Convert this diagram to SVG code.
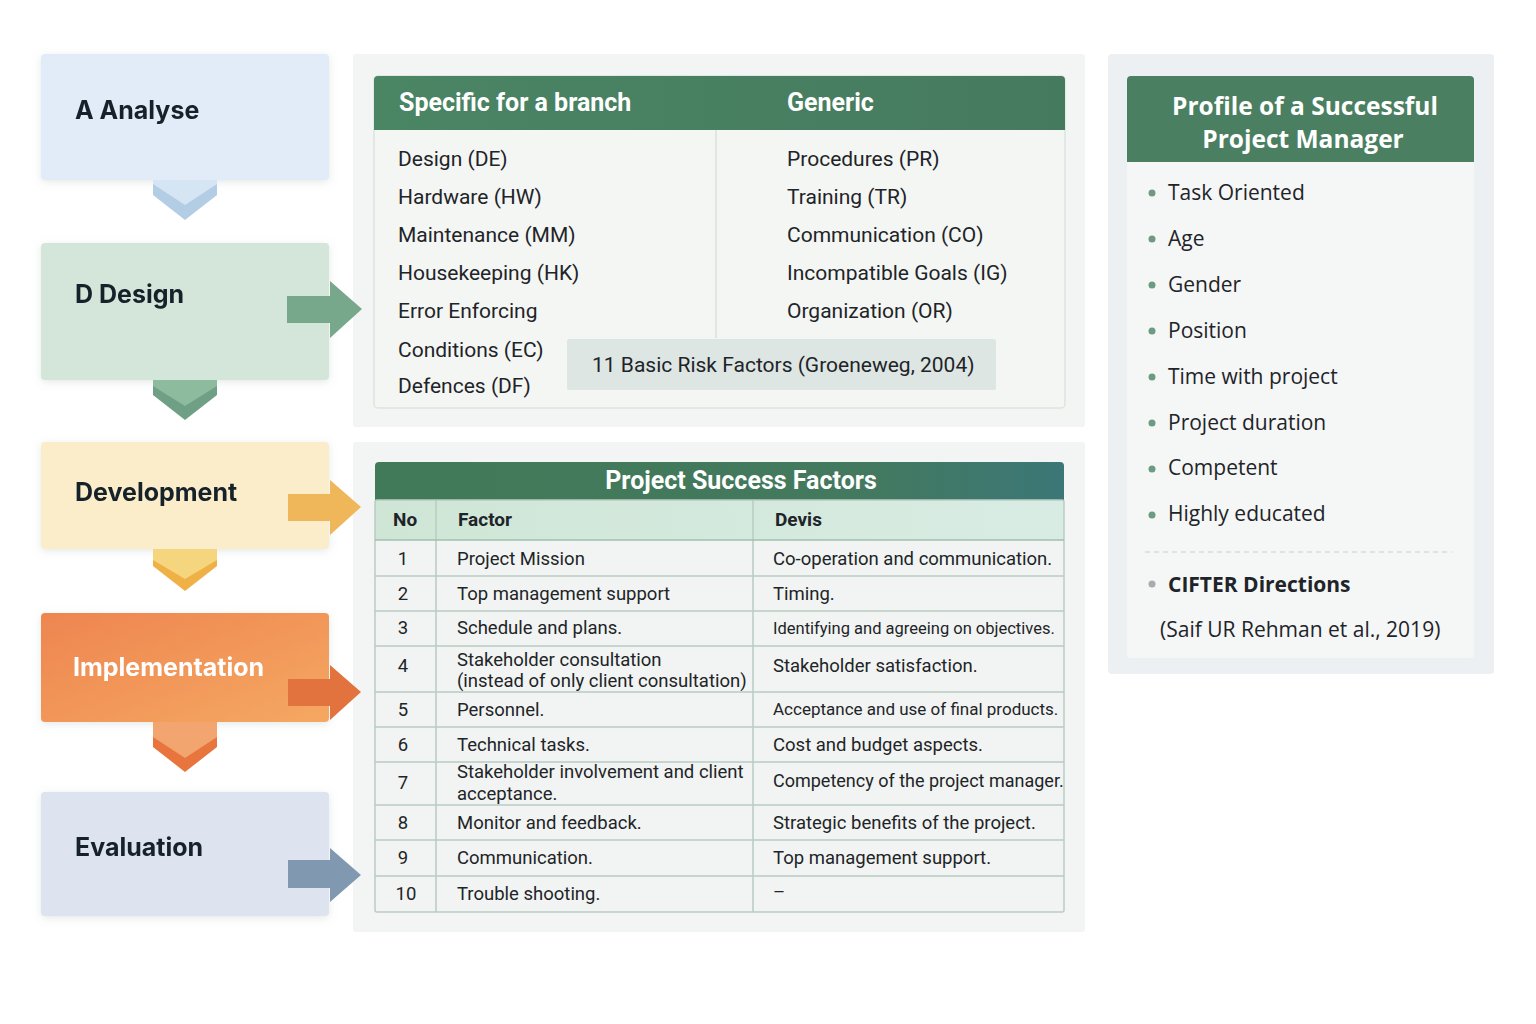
<svg xmlns="http://www.w3.org/2000/svg" width="1536" height="1024" viewBox="0 0 1536 1024">
<defs>
<style>
.lbl{font-family:Inter,"Open Sans",sans-serif;font-weight:700;font-size:25px;fill:#17202a}
.rf{font-family:Roboto,"Liberation Sans",sans-serif;font-size:21px;fill:#1e2428}
.th{font-family:Roboto,"Liberation Sans",sans-serif;font-size:25px;font-weight:700;fill:#ffffff}
.td{font-family:Roboto,"Liberation Sans",sans-serif;font-size:18.5px;fill:#1e2428}
.tdh{font-family:Roboto,"Liberation Sans",sans-serif;font-size:19px;font-weight:700;fill:#1e2428}
.bl{font-family:"Open Sans","Noto Sans",sans-serif;font-size:21px;fill:#1e2428}
.grid{stroke:#b9cbc3;stroke-width:1.5;fill:none}
</style>
<filter id="sh" x="-10%" y="-10%" width="120%" height="130%">
<feDropShadow dx="0" dy="2" stdDeviation="4" flood-color="#8a9a95" flood-opacity="0.22"/>
</filter>
<linearGradient id="gImp" x1="0" y1="0" x2="1" y2="1">
<stop offset="0" stop-color="#ee8550"/><stop offset="1" stop-color="#f5a862"/>
</linearGradient>
<linearGradient id="gHead" x1="0" y1="0" x2="1" y2="0">
<stop offset="0" stop-color="#417a58"/><stop offset="0.7" stop-color="#43795e"/><stop offset="1" stop-color="#3c7777"/>
</linearGradient>
<linearGradient id="gColh" x1="0" y1="0" x2="1" y2="0">
<stop offset="0" stop-color="#cfe6d6"/><stop offset="1" stop-color="#d9ece4"/>
</linearGradient>
<linearGradient id="gGreenH" x1="0" y1="0" x2="1" y2="0">
<stop offset="0" stop-color="#4a8564"/><stop offset="1" stop-color="#467a5f"/>
</linearGradient>
</defs>
<rect width="1536" height="1024" fill="#ffffff"/>

<!-- Phase nodes -->
<g id="node-analyse" filter="url(#sh)">
<rect x="41" y="54" width="288" height="126" rx="4" fill="#e1ecf8"/>
<text class="lbl" x="75" y="119">A Analyse</text>
</g>
<g id="node-design" filter="url(#sh)">
<rect x="41" y="243" width="288" height="137" rx="4" fill="#d3e6d9"/>
<text class="lbl" x="75" y="303">D Design</text>
</g>
<g id="node-development" filter="url(#sh)">
<rect x="41" y="442" width="288" height="107" rx="4" fill="#fbecca"/>
<text class="lbl" x="75" y="501">Development</text>
</g>
<g id="node-implementation" filter="url(#sh)">
<rect x="41" y="613" width="288" height="109" rx="4" fill="url(#gImp)"/>
<text class="lbl" x="73" y="676" style="fill:#ffffff">Implementation</text>
</g>
<g id="node-evaluation" filter="url(#sh)">
<rect x="41" y="792" width="288" height="124" rx="4" fill="#dde4f0"/>
<text class="lbl" x="75" y="856">Evaluation</text>
</g>

<!-- Risk factors panel -->
<g id="node-risk-factors">
<rect x="353" y="54" width="732" height="373" rx="3" fill="#f2f5f3"/>
<rect x="374" y="76" width="691" height="332" rx="4" fill="#f4f6f4" stroke="#dde3df" stroke-width="1.5"/>
<path d="M374,130 V80 a4,4 0 0 1 4,-4 H1061 a4,4 0 0 1 4,4 V130 Z" fill="url(#gGreenH)"/>
<text class="th" x="399" y="111">Specific for a branch</text>
<text class="th" x="787" y="111">Generic</text>
<line x1="716" y1="130" x2="716" y2="338" stroke="#dbe0dd" stroke-width="1.5"/>
<text class="rf" x="398" y="166">Design (DE)</text>
<text class="rf" x="398" y="204">Hardware (HW)</text>
<text class="rf" x="398" y="242">Maintenance (MM)</text>
<text class="rf" x="398" y="280">Housekeeping (HK)</text>
<text class="rf" x="398" y="318">Error Enforcing</text>
<text class="rf" x="398" y="357">Conditions (EC)</text>
<text class="rf" x="398" y="393">Defences (DF)</text>
<text class="rf" x="787" y="166">Procedures (PR)</text>
<text class="rf" x="787" y="204">Training (TR)</text>
<text class="rf" x="787" y="242">Communication (CO)</text>
<text class="rf" x="787" y="280">Incompatible Goals (IG)</text>
<text class="rf" x="787" y="318">Organization (OR)</text>
<rect x="567" y="339" width="429" height="51" rx="2" fill="#dde6e2"/>
<text class="rf" x="592" y="372">11 Basic Risk Factors (Groeneweg, 2004)</text>
</g>

<!-- Project success factors panel -->
<g id="node-success-factors">
<rect x="353" y="442" width="732" height="490" rx="3" fill="#f2f5f3"/>
<rect x="375" y="500" width="689" height="412" fill="#f1f4f2"/>
<path d="M375,500 V466 a4,4 0 0 1 4,-4 H1060 a4,4 0 0 1 4,4 V500 Z" fill="url(#gHead)"/>
<text class="th" x="741" y="489" text-anchor="middle">Project Success Factors</text>
<rect x="375" y="500" width="689" height="40" fill="url(#gColh)"/>
<text class="tdh" x="393" y="526">No</text>
<text class="tdh" x="458" y="526">Factor</text>
<text class="tdh" x="775" y="526">Devis</text>
<rect class="grid" x="375" y="500" width="689" height="412" rx="2"/>
<g class="grid">
<line x1="436" y1="500" x2="436" y2="912"/>
<line x1="753" y1="500" x2="753" y2="912"/>
<line x1="375" y1="540" x2="1064" y2="540" stroke="#9fc0ac"/>
<line x1="375" y1="576" x2="1064" y2="576"/>
<line x1="375" y1="611" x2="1064" y2="611"/>
<line x1="375" y1="646" x2="1064" y2="646"/>
<line x1="375" y1="692" x2="1064" y2="692"/>
<line x1="375" y1="727" x2="1064" y2="727"/>
<line x1="375" y1="762" x2="1064" y2="762"/>
<line x1="375" y1="805" x2="1064" y2="805"/>
<line x1="375" y1="840" x2="1064" y2="840"/>
<line x1="375" y1="876" x2="1064" y2="876"/>
</g>
<g class="td" text-anchor="middle">
<text x="403" y="565">1</text>
<text x="403" y="600">2</text>
<text x="403" y="634">3</text>
<text x="403" y="672">4</text>
<text x="403" y="716">5</text>
<text x="403" y="751">6</text>
<text x="403" y="789">7</text>
<text x="403" y="829">8</text>
<text x="403" y="864">9</text>
<text x="406" y="900">10</text>
</g>
<g class="td">
<text x="457" y="565">Project Mission</text>
<text x="457" y="600">Top management support</text>
<text x="457" y="634">Schedule and plans.</text>
<text x="457" y="666">Stakeholder consultation</text>
<text x="457" y="687">(instead of only client consultation)</text>
<text x="457" y="716">Personnel.</text>
<text x="457" y="751">Technical tasks.</text>
<text x="457" y="778">Stakeholder involvement and client</text>
<text x="457" y="800">acceptance.</text>
<text x="457" y="829">Monitor and feedback.</text>
<text x="457" y="864">Communication.</text>
<text x="457" y="900">Trouble shooting.</text>
<text x="773" y="565">Co-operation and communication.</text>
<text x="773" y="600">Timing.</text>
<text x="773" y="634" style="font-size:16.5px">Identifying and agreeing on objectives.</text>
<text x="773" y="672">Stakeholder satisfaction.</text>
<text x="773" y="715" style="font-size:17px">Acceptance and use of final products.</text>
<text x="773" y="751">Cost and budget aspects.</text>
<text x="773" y="787" style="font-size:18px">Competency of the project manager.</text>
<text x="773" y="829">Strategic benefits of the project.</text>
<text x="773" y="864">Top management support.</text>
<text x="773" y="898">–</text>
</g>
</g>

<!-- Profile panel -->
<g id="node-profile">
<rect x="1108" y="54" width="386" height="620" rx="4" fill="#edf0f2"/>
<rect x="1127" y="76" width="347" height="582" rx="3" fill="#f5f6f6"/>
<path d="M1127,162 V80 a4,4 0 0 1 4,-4 H1470 a4,4 0 0 1 4,4 V162 Z" fill="#4a7f62"/>
<text x="1305" y="115" text-anchor="middle" style="font-family:'Open Sans','Noto Sans',sans-serif;font-weight:700;font-size:24.5px;fill:#fff">Profile of a Successful</text>
<text x="1303" y="148" text-anchor="middle" style="font-family:'Open Sans','Noto Sans',sans-serif;font-weight:700;font-size:24.5px;fill:#fff">Project Manager</text>
<g fill="#6e9a82">
<circle cx="1152" cy="193" r="3.5"/>
<circle cx="1152" cy="239" r="3.5"/>
<circle cx="1152" cy="285" r="3.5"/>
<circle cx="1152" cy="331" r="3.5"/>
<circle cx="1152" cy="377" r="3.5"/>
<circle cx="1152" cy="423" r="3.5"/>
<circle cx="1152" cy="469" r="3.5"/>
<circle cx="1152" cy="515" r="3.5"/>
</g>
<g class="bl">
<text x="1168" y="200">Task Oriented</text>
<text x="1168" y="246">Age</text>
<text x="1168" y="292">Gender</text>
<text x="1168" y="338">Position</text>
<text x="1168" y="384">Time with project</text>
<text x="1168" y="430">Project duration</text>
<text x="1168" y="475">Competent</text>
<text x="1168" y="521">Highly educated</text>
</g>
<line x1="1145" y1="552" x2="1452" y2="552" stroke="#c8d0cc" stroke-width="1.2" stroke-dasharray="5,4"/>
<circle cx="1152" cy="584" r="3.5" fill="#a6acb0"/>
<text class="bl" x="1168" y="592" style="font-weight:700">CIFTER Directions</text>
<text class="bl" x="1160" y="637">(Saif UR Rehman et al., 2019)</text>
</g>

<!-- Connectors -->
<g id="connectors">
<polygon points="153,180 217,180 217,195 185,220 153,195" fill="#b3cde5"/>
<polygon points="153,180 217,180 217,184 185,205 153,184" fill="#d6e5f3"/>
<polygon points="153,380 217,380 217,395 185,420 153,395" fill="#6f9f84"/>
<polygon points="153,380 217,380 217,386 185,406 153,386" fill="#8dbb9e"/>
<polygon points="153,549 217,549 217,566 185,591 153,566" fill="#efb046"/>
<polygon points="153,549 217,549 217,560 185,579 153,560" fill="#f5d57e"/>
<polygon points="153,722 217,722 217,747 185,772 153,747" fill="#e9753e"/>
<polygon points="153,722 217,722 217,737 185,758 153,737" fill="#f2a56e"/>
<polygon points="287,296 330,296 330,281 362,309 330,338 330,323 287,323" fill="#78a88c"/>
<polygon points="288,494 330,494 330,480 361,507 330,535 330,521 288,521" fill="#efb65a"/>
<polygon points="288,679 330,679 330,665 361,692 330,720 330,706 288,706" fill="#e3733e"/>
<polygon points="288,860 330,860 330,848 361,875 330,902 330,888 288,888" fill="#8199b0"/>
</g>
</svg>
